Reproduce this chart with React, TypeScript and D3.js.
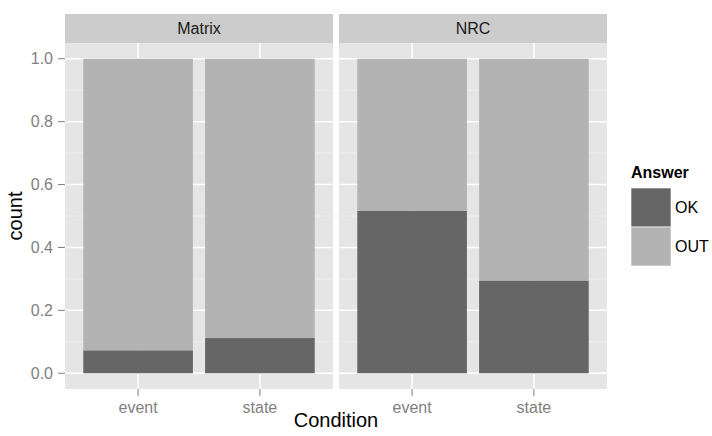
import React from "react";
import * as d3 from "d3";

const panels = ["Matrix", "NRC"];
const conditions = ["event", "state"];
const answers = ["OK", "OUT"];
const okMatrix = [0.073, 0.112];
const outMatrix = [0.927, 0.888];
const okNRC = [0.517, 0.295];
const outNRC = [0.483, 0.705];
const yTicks = [0, 0.2, 0.4, 0.6, 0.8, 1.0];
const yMinor = [0.1, 0.3, 0.5, 0.7, 0.9];

const W = 712;
const H = 436;
const FONT = "'Liberation Sans', Arial, Helvetica, sans-serif";
const fills: Record<string, string> = { OK: "#666666", OUT: "#B3B3B3" };

const panelTop = 43;
const panelBottom = 389;
const stripTop = 14;
const panelX = [
  [65, 333],
  [339, 607],
];

export default function App() {
  const y = d3.scaleLinear().domain([-0.05, 1.05]).range([panelBottom, panelTop]);
  const seriesData: Record<string, { ok: number[]; out: number[] }> = {
    Matrix: { ok: okMatrix, out: outMatrix },
    NRC: { ok: okNRC, out: outNRC },
  };

  return (
    <svg
      width={W}
      height={H}
      style={{ position: "absolute", left: 0, top: 0, display: "block", background: "#fff" }}
      fontFamily={FONT}
    >
      {panels.map((p, pi) => {
        const [x0, x1] = panelX[pi];
        const x = d3.scaleLinear().domain([0.4, 2.6]).range([x0, x1]);
        const rows = conditions.map((c, i) => ({
          cond: c,
          OK: seriesData[p].ok[i],
          OUT: seriesData[p].out[i],
        }));
        const stack = d3.stack<any>().keys(answers)(rows);
        const bw = x(0.9) - x(0);
        return (
          <g key={p}>
            <rect x={x0} y={stripTop} width={x1 - x0} height={panelTop - stripTop} fill="#CCCCCC" />
            <text
              x={(x0 + x1) / 2}
              y={(stripTop + panelTop) / 2}
              dy="0.35em"
              textAnchor="middle"
              fontSize={16}
              fill="#1A1A1A"
            >
              {p}
            </text>
            <rect x={x0} y={panelTop} width={x1 - x0} height={panelBottom - panelTop} fill="#E5E5E5" />
            {yMinor.map((t) => (
              <line key={"m" + t} x1={x0} x2={x1} y1={y(t)} y2={y(t)} stroke="#F2F2F2" strokeWidth={0.8} />
            ))}
            {yTicks.map((t) => (
              <line key={"g" + t} x1={x0} x2={x1} y1={y(t)} y2={y(t)} stroke="#FFFFFF" strokeWidth={1.5} />
            ))}
            {conditions.map((c, i) => (
              <line key={"v" + c} x1={x(i + 1)} x2={x(i + 1)} y1={panelTop} y2={panelBottom} stroke="#FFFFFF" strokeWidth={1.5} />
            ))}
            {stack.map((s) =>
              s.map((d, i) => (
                <rect
                  key={s.key + i}
                  x={x(i + 1) - bw / 2}
                  width={bw}
                  y={y(d[1])}
                  height={y(d[0]) - y(d[1])}
                  fill={fills[s.key as string]}
                />
              ))
            )}
            {conditions.map((c, i) => (
              <g key={"xt" + c}>
                <line x1={x(i + 1)} x2={x(i + 1)} y1={panelBottom} y2={panelBottom + 7} stroke="#7F7F7F" strokeWidth={1} />
                <text x={x(i + 1)} y={panelBottom + 24} textAnchor="middle" fontSize={16} fill="#7F7F7F">
                  {c}
                </text>
              </g>
            ))}
          </g>
        );
      })}
      {yTicks.map((t) => (
        <g key={"yt" + t}>
          <line x1={58} x2={65} y1={y(t)} y2={y(t)} stroke="#7F7F7F" strokeWidth={1} />
          <text x={53} y={y(t)} dy="0.35em" textAnchor="end" fontSize={16} fill="#7F7F7F">
            {d3.format(".1f")(t)}
          </text>
        </g>
      ))}
      <text
        transform={`translate(${22},${(panelTop + panelBottom) / 2}) rotate(-90)`}
        textAnchor="middle"
        fontSize={20}
        fill="#000"
      >
        count
      </text>
      <text x={(panelX[0][0] + panelX[1][1]) / 2} y={427} textAnchor="middle" fontSize={20} fill="#000">
        Condition
      </text>
      <g>
        <text x={631} y={178} fontSize={16} fontWeight="bold" fill="#000">
          Answer
        </text>
        {answers.map((a, i) => (
          <g key={a}>
            <rect x={631} y={188 + i * 39} width={40} height={39} fill={fills[a]} stroke="#FFFFFF" strokeWidth={0.6} />
            <text x={675} y={188 + i * 39 + 19.5} dy="0.35em" fontSize={16} fill="#000">
              {a}
            </text>
          </g>
        ))}
      </g>
    </svg>
  );
}
